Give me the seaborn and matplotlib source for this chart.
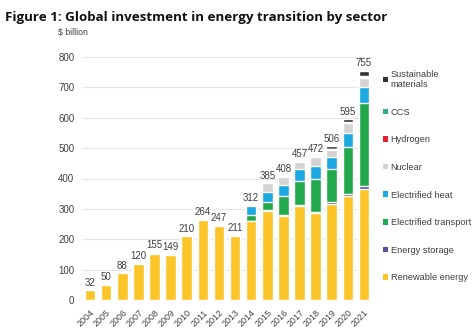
import matplotlib
matplotlib.use("Agg")
import matplotlib.pyplot as plt
from matplotlib.patches import Patch
import numpy as np
import pandas as pd
import seaborn as sns

years = [str(y) for y in range(2004, 2022)]
renewable = [32, 50, 88, 120, 153, 147, 210, 263, 245, 210, 259, 294, 277, 310, 285, 316, 343, 366]
storage = [0, 0, 0, 0, 0, 0, 0, 0, 1, 0, 1, 2, 3, 3, 5, 5, 5, 8]
transport = [0, 0, 0, 0, 0, 0, 0, 0, 0, 0, 19, 27, 63, 79, 110, 110, 155, 273]
heat = [0, 0, 0, 0, 0, 0, 0, 0, 0, 0, 30, 33, 35, 38, 41, 40, 47, 53]
nuclear = [0, 0, 0, 0, 2, 2, 0, 1, 1, 1, 2, 28, 28, 25, 29, 24, 32, 31]
hydrogen = [0, 0, 0, 0, 0, 0, 0, 0, 0, 0, 0, 0, 1, 1, 1, 1, 1, 2]
ccs = [0, 0, 0, 0, 0, 0, 0, 0, 0, 0, 1, 1, 1, 1, 1, 2, 3, 3]
materials = [0, 0, 0, 0, 0, 0, 0, 0, 0, 0, 0, 0, 0, 0, 0, 8, 9, 19]

sectors = ["Renewable energy", "Energy storage", "Electrified transport",
           "Electrified heat", "Nuclear", "Hydrogen", "CCS", "Sustainable materials"]
colors = ["#FBC52A", "#5E4E9E", "#22A94C", "#1CA8E0", "#D3D3D3",
          "#E2202C", "#2DB08E", "#333333"]
legend_labels = ["Renewable energy", "Energy storage", "Electrified transport",
                 "Electrified heat", "Nuclear", "Hydrogen", "CCS",
                 "Sustainable\nmaterials"]

df = pd.DataFrame({"year": years, "Renewable energy": renewable,
                   "Energy storage": storage, "Electrified transport": transport,
                   "Electrified heat": heat, "Nuclear": nuclear,
                   "Hydrogen": hydrogen, "CCS": ccs,
                   "Sustainable materials": materials})
cum = df[sectors].cumsum(axis=1)
cum["year"] = df["year"]
totals = df[sectors].sum(axis=1)

sns.set_theme(style="white")
plt.rcParams["font.family"] = ["Liberation Sans", "DejaVu Sans"]

fig = plt.figure(figsize=(4.74, 3.32), dpi=100)
ax = fig.add_axes([82 / 474, 32 / 332, 290 / 474, 243 / 332])

# stacked bars: draw cumulative heights from the top layer down
for name, col in zip(reversed(sectors), reversed(colors)):
    sns.barplot(data=cum, x="year", y=name, order=years, color=col,
                saturation=1, width=0.66, ax=ax, zorder=3)

ax.set_ylim(0, 800)
ax.set_xlim(-0.5, len(years) - 0.5)
ax.set_yticks(range(0, 801, 100))
ax.yaxis.grid(True, color="#E6E6E6", linewidth=0.8, zorder=0)
ax.set_axisbelow(True)
for s in ax.spines.values():
    s.set_visible(False)
ax.set_xlabel("")
ax.set_ylabel("")
ax.tick_params(axis="y", labelsize=7, colors="#404040", length=0, pad=5.5)
ax.tick_params(axis="x", labelsize=6.4, colors="#404040", length=0, pad=6)
for lbl in ax.get_xticklabels():
    lbl.set_rotation(45)
    lbl.set_ha("right")
    lbl.set_rotation_mode("anchor")

for i, t in enumerate(totals):
    ax.text(i, t + 8, f"{t:.0f}", ha="center", va="bottom",
            fontsize=7, color="#404040")

handles = [Patch(facecolor=c, edgecolor="none", label=l)
           for c, l in zip(colors, legend_labels)]
handles = handles[::-1]
fig.legend(handles=handles, loc="upper left", bbox_to_anchor=(379 / 474, 1 - 66 / 332),
           frameon=False, fontsize=6.7, labelcolor="#404040",
           handlelength=0.55, handleheight=0.55, handletextpad=0.3,
           labelspacing=2.0, borderaxespad=0)

fig.text(5 / 474, 1 - 17 / 332, "Figure 1: Global investment in energy transition by sector",
         fontsize=9.6, fontweight="bold", family=["Open Sans", "DejaVu Sans"],
         color="#111111", va="center", ha="left")
fig.text(58 / 474, 1 - 32 / 332, "$ billion", fontsize=6.3, color="#404040",
         va="center", ha="left")

fig.savefig("out.png", dpi=100)
